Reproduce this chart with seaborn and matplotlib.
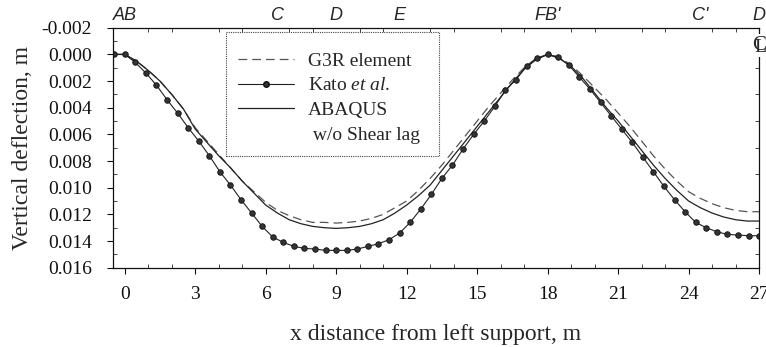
import numpy as np
import pandas as pd
import matplotlib
matplotlib.use("Agg")
import matplotlib.pyplot as plt
from matplotlib.lines import Line2D
from matplotlib.ticker import MultipleLocator, FormatStrFormatter
import seaborn as sns

# ---------------- data ----------------
kato_x = [-0.45, 0.0, 0.45, 0.9, 1.35, 1.8, 2.25, 2.7, 3.15, 3.6, 4.05, 4.5, 4.95, 5.4, 5.85,
          6.3, 6.75, 7.2, 7.65, 8.1, 8.55, 9.0, 9.45, 9.9, 10.35, 10.8, 11.25, 11.7, 12.15,
          12.6, 13.05, 13.5, 13.95, 14.4, 14.85, 15.3, 15.75, 16.2, 16.65, 17.1, 17.55, 18.0,
          18.45, 18.9, 19.35, 19.8, 20.25, 20.7, 21.15, 21.6, 22.05, 22.5, 22.95, 23.4, 23.85,
          24.3, 24.75, 25.2, 25.65, 26.1, 26.55, 27.0]
kato_y = [0.0, 0.0, 0.0006, 0.0014, 0.0023, 0.0034, 0.0044, 0.0055, 0.0065, 0.0076, 0.0088,
          0.0098, 0.0109, 0.0119, 0.0129, 0.0137, 0.0141, 0.0144, 0.01455, 0.0146, 0.0147,
          0.0147, 0.0147, 0.0146, 0.0144, 0.0142, 0.0139, 0.0134, 0.0126, 0.0116, 0.0105,
          0.0093, 0.0083, 0.0071, 0.0060, 0.0050, 0.0039, 0.0027, 0.0019, 0.0009, 0.0003,
          0.0, 0.0002, 0.0008, 0.0017, 0.0026, 0.0036, 0.0046, 0.0056, 0.0066, 0.0077,
          0.0088, 0.0099, 0.0109, 0.0118, 0.0126, 0.0130, 0.0133, 0.0135, 0.01355, 0.0136,
          0.0136]

fem_x = [-0.45, 0.0, 0.5, 1.0, 1.5, 2.0, 2.5, 3.0, 3.5, 4.0, 4.5, 5.0, 5.5, 6.0, 6.5, 7.0,
         7.5, 8.0, 8.5, 9.0, 9.5, 10.0, 10.5, 11.0, 11.5, 12.0, 12.5, 13.0, 13.5, 14.0, 14.5,
         15.0, 15.5, 16.0, 16.5, 17.0, 17.5, 18.0, 18.5, 19.0, 19.5, 20.0, 20.5, 21.0, 21.5,
         22.0, 22.5, 23.0, 23.5, 24.0, 24.5, 25.0, 25.5, 26.0, 26.5, 27.0]
abaqus_y = [0.0, 0.0, 0.0005, 0.0012, 0.0020, 0.0030, 0.0041, 0.0056, 0.0066, 0.0076, 0.0085,
            0.0095, 0.0104, 0.0113, 0.0119, 0.0124, 0.0127, 0.0129, 0.0130, 0.01305, 0.0130,
            0.0129, 0.0127, 0.0124, 0.0119, 0.0113, 0.0106, 0.0098, 0.0087, 0.0076, 0.0065,
            0.0054, 0.0043, 0.0032, 0.0021, 0.0011, 0.0004, 0.0, 0.0003, 0.0009, 0.0018,
            0.0029, 0.0040, 0.0050, 0.0061, 0.0072, 0.0083, 0.0093, 0.0102, 0.0110, 0.0115,
            0.0119, 0.0122, 0.0124, 0.0125, 0.0125]
g3r_y = [0.0, 0.0, 0.0005, 0.0012, 0.0020, 0.0030, 0.0041, 0.0055, 0.0065, 0.0075, 0.0085,
         0.0095, 0.0103, 0.0111, 0.0117, 0.0121, 0.0124, 0.0126, 0.0126, 0.01265, 0.0126,
         0.0125, 0.0123, 0.0120, 0.0115, 0.0110, 0.0102, 0.0093, 0.0083, 0.0072, 0.0061,
         0.0050, 0.0039, 0.0029, 0.0019, 0.0010, 0.0003, 0.0, 0.0002, 0.0008, 0.0016,
         0.0025, 0.0034, 0.0044, 0.0054, 0.0065, 0.0076, 0.0086, 0.0095, 0.0103, 0.0108,
         0.0112, 0.0115, 0.0117, 0.0118, 0.0118]

y_ticks = [-0.002, 0.0, 0.002, 0.004, 0.006, 0.008, 0.010, 0.012, 0.014, 0.016]
x_ticks = [0, 3, 6, 9, 12, 15, 18, 21, 24, 27]
top_pos = [0.0, 6.5, 9.0, 11.7, 18.0, 24.5, 27.0]
top_labels = ["AB", "C", "D", "E", "FB'", "C'", "D"]

legend_labels = ["G3R element", "Kato $\\it{et\\ al.}$", "ABAQUS", " w/o Shear lag"]

# ---------------- style ----------------
sns.set_style("ticks")
plt.rcParams["font.family"] = ["Liberation Serif", "DejaVu Serif"]
plt.rcParams["mathtext.fontset"] = "custom"
plt.rcParams["mathtext.rm"] = "Liberation Serif"
plt.rcParams["mathtext.it"] = "Liberation Serif:italic"
plt.rcParams["axes.unicode_minus"] = False

fig = plt.figure(figsize=(7.66, 3.47), dpi=100)
ax = fig.add_axes([0.1475, 0.2285, 0.8435, 0.6915])

df_g3r = pd.DataFrame({"x": fem_x, "y": g3r_y})
df_aba = pd.DataFrame({"x": fem_x, "y": abaqus_y})
df_kato = pd.DataFrame({"x": kato_x, "y": kato_y})

sns.lineplot(data=df_g3r, x="x", y="y", ax=ax, color="#555555", lw=0.9,
             dashes=False, linestyle=(0, (7, 4)), sort=False, estimator=None)
sns.lineplot(data=df_aba, x="x", y="y", ax=ax, color="#222222", lw=0.9,
             sort=False, estimator=None)
sns.lineplot(data=df_kato, x="x", y="y", ax=ax, color="#222222", lw=0.8,
             marker="o", markersize=4.0, markeredgecolor="#111111",
             markerfacecolor="#333333", markeredgewidth=0.6, sort=False, estimator=None)

ax.set_xlim(-0.5, 27)
ax.set_ylim(0.016, -0.002)
ax.set_yticks(y_ticks)
ax.yaxis.set_major_formatter(FormatStrFormatter("%.3f"))
ax.set_xticks(x_ticks)
ax.xaxis.set_minor_locator(MultipleLocator(1))
ax.yaxis.set_minor_locator(MultipleLocator(0.001))

ax.tick_params(axis="both", which="major", direction="out", length=4, width=0.8,
               labelsize=14, colors="#111111")
ax.tick_params(axis="x", which="major", pad=9)
ax.tick_params(axis="y", which="major", pad=11)
ax.tick_params(axis="both", which="minor", direction="in", length=3, width=0.6,
               top=True, right=True)

for s in ax.spines.values():
    s.set_linewidth(0.9)
    s.set_color("#111111")

ax.set_xlabel("x distance from left support, m", fontsize=17, labelpad=15)
ax.set_ylabel("Vertical deflection, m", fontsize=17, labelpad=6)

# top labels
sec = ax.secondary_xaxis("top")
sec.set_xticks(top_pos, top_labels)
sec.tick_params(length=0, pad=3)
for lab in sec.get_xticklabels():
    lab.set_fontfamily("Liberation Sans")
    lab.set_fontstyle("italic")
    lab.set_fontsize(13)
sec.spines["top"].set_visible(False)

# centreline symbol
ax.text(27, -0.0007, "C", ha="center", va="center", fontsize=15,
        bbox=dict(facecolor="white", edgecolor="none", pad=1.5), zorder=5, clip_on=False)
ax.text(27.05, -0.0005, "L", ha="center", va="center", fontsize=14, zorder=6, clip_on=False)

# legend
handles = [
    Line2D([], [], color="#555555", lw=0.9, linestyle=(0, (7, 4))),
    Line2D([], [], color="#222222", lw=0.8, marker="o", markersize=4.0,
           markerfacecolor="#333333", markeredgecolor="#111111", markevery=[1]),
    Line2D([], [], color="#222222", lw=0.9),
    Line2D([], [], color="none", lw=0),
]
leg = ax.legend(handles, legend_labels, loc="upper left",
                bbox_to_anchor=(0.175, 0.482, 0.33, 0.5), mode="expand",
                borderaxespad=0, fontsize=14, handlelength=2.9, handletextpad=0.7,
                labelspacing=0.37, borderpad=0.6, frameon=True, fancybox=False,
                title=" ", title_fontsize=1)
frame = leg.get_frame()
frame.set_edgecolor("#444444")
frame.set_linewidth(0.8)
frame.set_linestyle((0, (1, 1)))
frame.set_facecolor("white")
frame.set_alpha(1)

fig.savefig("out.png", dpi=100)
